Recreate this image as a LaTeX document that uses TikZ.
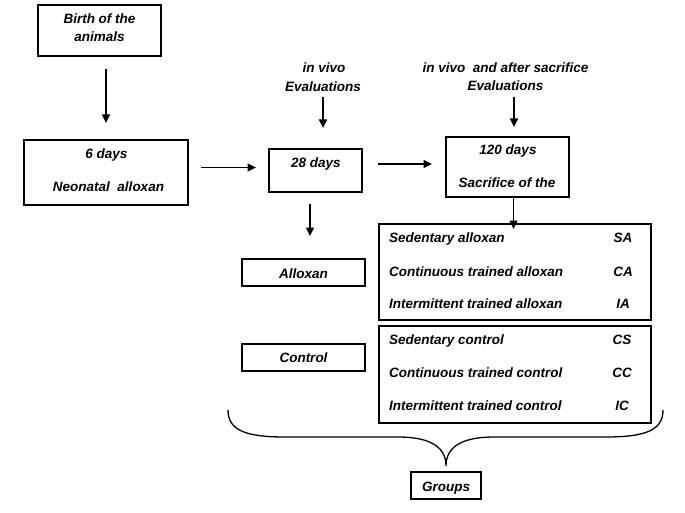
\documentclass[tikz,border=0pt]{standalone}
\usepackage{fontspec}
\setmainfont{Liberation Sans}
\usetikzlibrary{arrows.meta}
\begin{document}
\begin{tikzpicture}[x=1pt,y=-1pt,
  box/.style={draw,line width=2.2pt,inner sep=0pt},
  lbl/.style={font=\fontsize{13.5}{16}\selectfont\bfseries\itshape,inner sep=0pt,anchor=base},
  lblw/.style={font=\fontsize{13.5}{16}\selectfont\bfseries\itshape,inner sep=0pt,anchor=base west},
  arr/.style={line width=1.4pt,-{Triangle[length=8.5pt,width=8pt]}}]
\useasboundingbox (0,0) rectangle (685,513);
% boxes
\node[box,minimum width=123pt,minimum height=51pt] (birth) at (99.5,30.5) {};
\node[box,minimum width=164pt,minimum height=65pt] (six) at (106,172.5) {};
\node[box,minimum width=93pt,minimum height=43pt] (tw) at (315.5,170.5) {};
\node[box,minimum width=123pt,minimum height=60pt] (ot) at (507.5,167) {};
\node[box,minimum width=123pt,minimum height=27pt] (allox) at (303.5,272.5) {};
\node[box,minimum width=123pt,minimum height=27pt] (contr) at (303.5,357.5) {};
\node[box,minimum width=272pt,minimum height=96pt] (ga) at (515,272) {};
\node[box,minimum width=272pt,minimum height=97pt] (gc) at (515,374.5) {};
\node[box,minimum width=70pt,minimum height=27pt] (groups) at (446,485.5) {};
% texts
\node[lbl] (t1) at (99.5,24) {Birth of the};
\node[lbl] (t2) at (99.5,42) {animals};
\node[lbl] (t3) at (106.5,159) {6 days};
\node[lbl] (t4) at (108.5,192) {Neonatal\ \ alloxan};
\node[lbl] (t5) at (316,168) {28 days};
\node[lbl] (t6) at (508,155) {120 days};
\node[lbl] (t7) at (507,188) {Sacrifice of the};
\node[lbl] (e1) at (324,73) {in vivo};
\node[lbl] (e2) at (323,92) {Evaluations};
\node[lbl] (e3) at (505.5,73) {in vivo\ \ and after sacrifice};
\node[lbl] (e4) at (505.5,91) {Evaluations};
\node[lbl] (t8) at (303.5,278) {Alloxan};
\node[lbl] (t9) at (303.5,362.5) {Control};
\node[lbl] (t10) at (446,491) {Groups};
\node[lblw] (r1) at (389,242) {Sedentary alloxan};
\node[lblw] (r2) at (389,276) {Continuous trained alloxan};
\node[lblw] (r3) at (389,308.5) {Intermittent trained alloxan};
\node[lblw] (r4) at (389,344) {Sedentary control};
\node[lblw] (r5) at (389,377.5) {Continuous trained control};
\node[lblw] (r6) at (389,410) {Intermittent trained control};
\node[lbl] (a1) at (623,242) {SA};
\node[lbl] (a2) at (623,276) {CA};
\node[lbl] (a3) at (623,308.5) {IA};
\node[lbl] (a4) at (622,344) {CS};
\node[lbl] (a5) at (622,377.5) {CC};
\node[lbl] (a6) at (622,410) {IC};
% arrow end points
\coordinate (b1) at (106,69);   \coordinate (b2) at (106,123);
\coordinate (s1) at (201,167.5); \coordinate (s2) at (256,167.5);
\coordinate (v1) at (323,97);   \coordinate (v2) at (323,128);
\coordinate (w1) at (378,164);  \coordinate (w2) at (432,164);
\coordinate (u1) at (514,97);   \coordinate (u2) at (514,127);
\coordinate (d1) at (513.5,198); \coordinate (d2) at (513.5,229);
\coordinate (f1) at (310,204);  \coordinate (f2) at (310,236);
\draw[arr] (b1) -- (b2);
\draw[arr] (s1) -- (s2);
\draw[arr] (v1) -- (v2);
\draw[arr] (w1) -- (w2);
\draw[arr] (u1) -- (u2);
\draw[arr] (d1) -- (d2);
\draw[arr] (f1) -- (f2);
% brace
\coordinate (bl) at (228,410);
\coordinate (br) at (663,410);
\coordinate (tip) at (446,466);
\draw[line width=1.3pt] (bl) .. controls (228,430) and (245,437) .. (285,437) -- (398,437)
  .. controls (432,437) and (446,448) .. (tip)
  .. controls (446,448) and (460,437) .. (494,437) -- (606,437)
  .. controls (646,437) and (663,430) .. (br);
\end{tikzpicture}
\end{document}
